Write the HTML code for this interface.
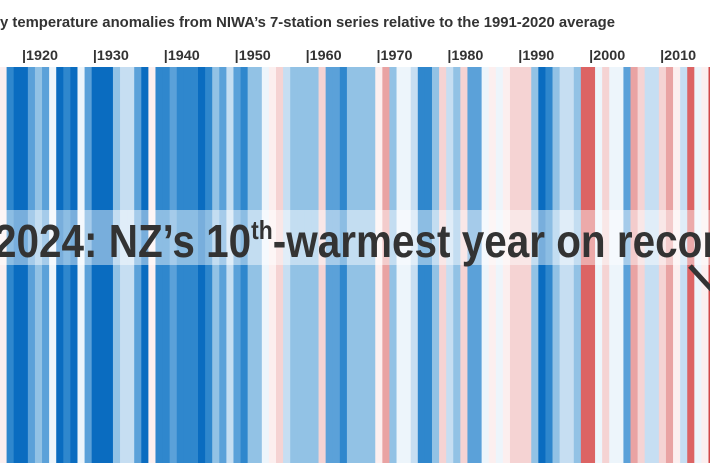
<!DOCTYPE html>
<html><head><meta charset="utf-8"><style>
html,body{margin:0;padding:0;background:#fff;width:710px;height:473px;overflow:hidden}
svg{display:block}
text{font-family:"Liberation Sans",sans-serif;font-weight:bold}
</style></head><body>
<svg id="s" width="710" height="473" viewBox="0 0 710 473"></svg>
<script>
var C={D:"#0a6cc0",M:"#2f87cd",m:"#5ba1d9",L:"#92c2e5",l:"#c6def2",W:"#edf5fb",w:"#fcefef",p:"#f5d3d3",P:"#e9a3a3",R:"#dc6464",X:"#d04848"};
var seq="wMDDmLmWDMDWmDDDLllmDwMMmMMMDMLmlmMLLWwplLLLLpmmMLLLLwPLWWlMMLplLpmmWwWwpppLDMLllLRRWpWWmPpllpPwlRWwX";
var s=document.getElementById("s"),h="";
for(var i=0;i<seq.length;i++){h+='<rect x="'+(i*7.09-0.5).toFixed(2)+'" y="67" width="7.6" height="396" fill="'+C[seq[i]]+'"/>';}
h+='<text x="0" y="27" font-size="14.5" fill="#333" textLength="615" lengthAdjust="spacingAndGlyphs">y temperature anomalies from NIWA’s 7-station series relative to the 1991-2020 average</text>';
var yrs=[1920,1930,1940,1950,1960,1970,1980,1990,2000,2010];
yrs.forEach(function(y){var x=22+(y-1920)*7.09;h+='<text x="'+x+'" y="60" font-size="13.5" fill="#333" textLength="36" lengthAdjust="spacingAndGlyphs">|'+y+'</text>';});
h+='<rect x="0" y="210" width="710" height="55" fill="#fff" fill-opacity="0.45"/>';
h+='<g transform="translate(-6,0) scale(0.88,1)"><text x="0" y="257" font-size="46" fill="#333">2024: NZ’s 10<tspan font-size="26" dy="-18">th</tspan><tspan dy="18">-warmest year on record</tspan></text></g>';
h+='<line x1="690" y1="266" x2="712" y2="290" stroke="#333" stroke-width="5"/>';
s.innerHTML=h;
</script>
</body></html>
